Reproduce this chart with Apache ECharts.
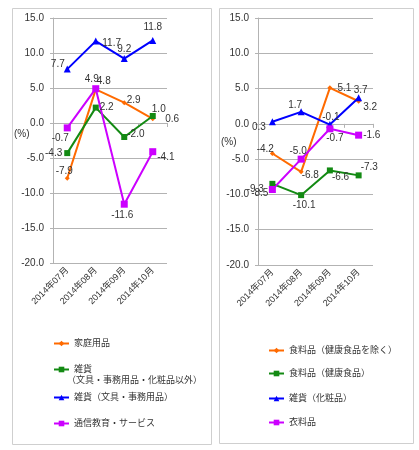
<!DOCTYPE html>
<html>
<head>
<meta charset="utf-8">
<script src="https://cdn.jsdelivr.net/npm/echarts@6/dist/echarts.min.js"></script>
<style>
  html, body { margin: 0; padding: 0; background: #fff; }
  #chart { width: 419px; height: 450px; }
</style>
</head>
<body>
<div id="chart"></div>
<script>
// Categories
const months = ['2014年07月', '2014年08月', '2014年09月', '2014年10月'];

// Left panel series
const kateiYouhin = [-7.9, 4.8, 2.9, 0.6];
const zakkaOther = [-4.3, 2.2, -2.0, 1.0];
const zakkaBungu = [7.7, 11.7, 9.2, 11.8];
const tsushinKyoiku = [-0.7, 4.9, -11.6, -4.1];

// Right panel series
const shokuryoExHealth = [-4.2, -6.8, 5.1, 3.2];
const shokuryoHealth = [-8.5, -10.1, -6.6, -7.3];
const zakkaKeshohin = [0.3, 1.7, -0.1, 3.7];
const iryohin = [-9.3, -5.0, -0.7, -1.6];

// Value axis range
const yMin = -20;
const yMax = 15;
const yStep = 5;

const GRAY = '#b3b3b3';
const TEXT = '#333';
const FONT = '"Liberation Sans", "Noto Sans CJK JP", sans-serif';

const COLORS = {
  orange: '#ff6a00',
  green: '#138a13',
  blue: '#0000ff',
  magenta: '#cc00ff'
};

// label placement helper: position + pixel offset
function lbl(position, dx, dy) {
  return { position: position, offset: [dx || 0, dy || 0] };
}

function makeSeries(name, values, color, symbol, size, grid, labels) {
  return {
    name: name,
    type: 'line',
    xAxisIndex: grid * 2,
    yAxisIndex: grid,
    symbol: symbol,
    symbolSize: size,
    lineStyle: { color: color, width: 2 },
    itemStyle: { color: color },
    label: { show: true, fontSize: 10, color: TEXT, formatter: p => p.value.toFixed(1) },
    data: values.map((v, i) => ({ value: v, label: labels[i] }))
  };
}

function labelAxis(grid) {
  return {
    type: 'category',
    gridIndex: grid,
    data: months,
    position: 'bottom',
    axisLine: { show: false, onZero: false },
    axisTick: { show: false },
    splitLine: { show: false },
    axisLabel: { rotate: 45, fontSize: 9, margin: 6, color: TEXT, interval: 0 }
  };
}

function zeroAxis(grid) {
  return {
    type: 'category',
    gridIndex: grid,
    data: months,
    position: 'bottom',
    axisLine: { onZero: true, lineStyle: { color: GRAY, width: 1 } },
    axisTick: { show: true, length: 4, lineStyle: { color: GRAY } },
    axisLabel: { show: false },
    splitLine: { show: false }
  };
}

function valueAxis(grid) {
  return {
    type: 'value',
    gridIndex: grid,
    min: yMin,
    max: yMax,
    interval: yStep,
    axisLine: { show: true, lineStyle: { color: GRAY } },
    axisTick: { show: true, length: 3, lineStyle: { color: GRAY } },
    splitLine: { lineStyle: { color: GRAY } },
    axisLabel: { fontSize: 10, color: TEXT, margin: 9, formatter: v => v.toFixed(1) }
  };
}

function makeLegend(name, left, cy, text) {
  return {
    data: [name],
    left: left,
    top: cy - 4,
    padding: 0,
    itemWidth: 15,
    itemHeight: 7,
    selectedMode: false,
    textStyle: { fontSize: 9, color: TEXT, fontFamily: FONT },
    formatter: () => text || name
  };
}

const series = [
  makeSeries('家庭用品', kateiYouhin, COLORS.orange, 'diamond', 5, 0,
    [lbl('top', -3, 5), lbl('top', 8, 4), lbl('right', -5, -2), lbl('right', 5, 0)]),
  makeSeries('雑貨（文具・事務用品・化粧品以外）', zakkaOther, COLORS.green, 'rect', 6, 0,
    [lbl('left', 3, 0), lbl('right', -4, 0), lbl('right', -5, -3), lbl('top', 6, 6)]),
  makeSeries('雑貨（文具・事務用品）', zakkaBungu, COLORS.blue, 'triangle', 7, 0,
    [lbl('left', 6, -5), lbl('right', -2, 2), lbl('top', 0, 4), lbl('top')]),
  makeSeries('通信教育・サービス', tsushinKyoiku, COLORS.magenta, 'rect', 7, 0,
    [lbl('bottom', -7, -3), lbl('top', -4, 4), lbl('bottom', -2, -2), lbl('right', -4, 6)]),

  makeSeries('食料品（健康食品を除く）', shokuryoExHealth, COLORS.orange, 'diamond', 5, 1,
    [lbl('left', 9, -4), lbl('right', -7, 3), lbl('right'), lbl('right', -3, 6)]),
  makeSeries('食料品（健康食品）', shokuryoHealth, COLORS.green, 'rect', 6, 1,
    [lbl('left', 4, 9), lbl('bottom', 3, -3), lbl('right', -6, 7), lbl('right', -6, -8)]),
  makeSeries('雑貨（化粧品）', zakkaKeshohin, COLORS.blue, 'triangle', 7, 1,
    [lbl('left', 2, 6), lbl('top', -6, 7), lbl('top', 1, 6), lbl('top', 2, 6)]),
  makeSeries('衣料品', iryohin, COLORS.magenta, 'rect', 7, 1,
    [lbl('left', 0, 0), lbl('top', -3, 6), lbl('bottom', 5, -4), lbl('right', -4, 0)])
];

const chart = echarts.init(document.getElementById('chart'));

chart.setOption({
  animation: false,
  backgroundColor: '#fff',
  textStyle: { fontFamily: FONT },
  grid: [
    { left: 53, top: 18, width: 114, height: 245 },
    { left: 258, top: 18, width: 115, height: 247 }
  ],
  xAxis: [labelAxis(0), zeroAxis(0), labelAxis(1), zeroAxis(1)],
  yAxis: [valueAxis(0), valueAxis(1)],
  legend: [
    makeLegend('家庭用品', 53, 343),
    makeLegend('雑貨（文具・事務用品・化粧品以外）', 53, 369, '雑貨'),
    makeLegend('雑貨（文具・事務用品）', 53, 397),
    makeLegend('通信教育・サービス', 53, 423),
    makeLegend('食料品（健康食品を除く）', 268, 350),
    makeLegend('食料品（健康食品）', 268, 373),
    makeLegend('雑貨（化粧品）', 268, 398),
    makeLegend('衣料品', 268, 422)
  ],
  graphic: [
    { type: 'rect', shape: { x: 12.5, y: 8.5, width: 199, height: 436 },
      style: { fill: 'none', stroke: '#cfcfcf', lineWidth: 1 }, z: -1 },
    { type: 'rect', shape: { x: 219.5, y: 8.5, width: 194, height: 435 },
      style: { fill: 'none', stroke: '#cfcfcf', lineWidth: 1 }, z: -1 },
    { type: 'text', left: 14, top: 129,
      style: { text: '(%)', fontSize: 10, fill: TEXT, fontFamily: FONT } },
    { type: 'text', left: 221, top: 137,
      style: { text: '(%)', fontSize: 10, fill: TEXT, fontFamily: FONT } },
    { type: 'text', left: 67, top: 376,
      style: { text: '（文具・事務用品・化粧品以外）', fontSize: 9, fill: TEXT, fontFamily: FONT } }
  ],
  series: series
});
</script>
</body>
</html>
